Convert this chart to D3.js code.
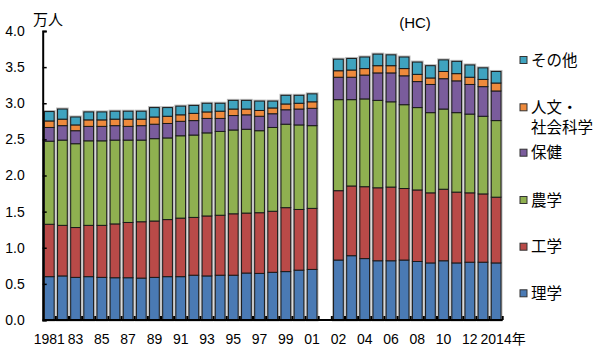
<!DOCTYPE html>
<html><head><meta charset="utf-8">
<script src="https://cdn.jsdelivr.net/npm/d3@7"></script>
<style>body{margin:0;background:#fff}text{fill:#000}</style></head>
<body><svg id="c" width="600" height="358"></svg>
<script>
// categories
const yearsA = ["1981","1982","1983","1984","1985","1986","1987","1988","1989","1990","1991","1992","1993","1994","1995","1996","1997","1998","1999","2000","2001"];
const yearsB = ["2002","2003","2004","2005","2006","2007","2008","2009","2010","2011","2012","2013","2014"];
// series values (万人), order: yearsA then yearsB
const rigaku   = [0.60,0.61,0.59,0.60,0.59,0.585,0.585,0.58,0.59,0.60,0.60,0.62,0.61,0.62,0.62,0.65,0.645,0.66,0.67,0.69,0.70,
                  0.83,0.89,0.85,0.82,0.82,0.83,0.81,0.79,0.82,0.79,0.80,0.80,0.79];
const kogaku   = [0.725,0.70,0.69,0.71,0.72,0.745,0.765,0.78,0.78,0.79,0.81,0.80,0.83,0.83,0.85,0.83,0.84,0.845,0.885,0.84,0.845,
                  0.96,0.965,0.995,1.01,1.02,0.99,0.99,0.97,0.99,0.98,0.96,0.945,0.91];
const nogaku   = [1.15,1.18,1.16,1.17,1.17,1.16,1.14,1.13,1.14,1.13,1.14,1.14,1.15,1.16,1.16,1.16,1.135,1.16,1.155,1.17,1.145,
                  1.26,1.195,1.215,1.21,1.18,1.16,1.14,1.11,1.11,1.10,1.09,1.075,1.06];
const hoken    = [0.19,0.20,0.18,0.20,0.20,0.20,0.19,0.20,0.20,0.20,0.20,0.20,0.20,0.18,0.20,0.20,0.20,0.19,0.20,0.22,0.24,
                  0.31,0.31,0.33,0.38,0.40,0.40,0.36,0.39,0.42,0.44,0.41,0.41,0.41];
const jinbun   = [0.09,0.09,0.08,0.09,0.09,0.09,0.10,0.09,0.10,0.10,0.09,0.10,0.09,0.10,0.09,0.08,0.08,0.08,0.08,0.08,0.09,
                  0.09,0.10,0.09,0.10,0.10,0.10,0.10,0.09,0.10,0.10,0.10,0.10,0.11];
const sonota   = [0.13,0.14,0.11,0.11,0.11,0.11,0.11,0.11,0.13,0.12,0.12,0.11,0.12,0.11,0.12,0.12,0.13,0.095,0.12,0.11,0.11,
                  0.16,0.16,0.16,0.16,0.15,0.16,0.17,0.17,0.16,0.17,0.17,0.16,0.16];
const seriesKeys  = ["理学","工学","農学","保健","人文・社会科学","その他"];
const seriesColors = ["#4a7ab4","#b94a48","#8fb050","#7a5c9c","#ee8a3c","#3fa3bf"];
// tick labels
const tickYears = ["1981","1983","1985","1987","1989","1991","1993","1995","1997","1999","2001","2002","2004","2006","2008","2010","2012","2014"];
const tickTexts = ["1981","83","85","87","89","91","93","95","97","99","01","02","04","06","08","10","12","2014"];
const yTicks = [0,0.5,1.0,1.5,2.0,2.5,3.0,3.5,4.0];

const seriesData = [rigaku,kogaku,nogaku,hoken,jinbun,sonota];
const allYears = yearsA.concat(yearsB);
const rows = allYears.map((yr,i)=>{const r={year:yr}; seriesKeys.forEach((k,j)=>r[k]=seriesData[j][i]); return r;});
const domain = yearsA.concat(["gap"]).concat(yearsB);

const svg = d3.select("#c");
const font = "'Liberation Sans', Arial, 'Noto Sans CJK JP', sans-serif";
const jfont = "'Noto Sans CJK JP', sans-serif";

const x = d3.scaleBand().domain(domain).range([42.7,502.7]).paddingInner(0.26).paddingOuter(0.13);
const y = d3.scaleLinear().domain([0,4]).range([320,31]);

const stack = d3.stack().keys(seriesKeys)(rows);

// bar halo
svg.append("g").selectAll("rect").data(rows).join("rect")
  .attr("x",d=>x(d.year)).attr("width",x.bandwidth())
  .attr("y",d=>y(d3.sum(seriesKeys,k=>d[k]))).attr("height",d=>y(0)-y(d3.sum(seriesKeys,k=>d[k])))
  .attr("fill","none").attr("stroke","#b8b8b8").attr("stroke-width",3);

const g = svg.append("g");
stack.forEach((s,j)=>{
  g.append("g").selectAll("rect").data(s).join("rect")
    .attr("x",d=>x(d.data.year)).attr("width",x.bandwidth())
    .attr("y",d=>y(d[1])).attr("height",d=>y(d[0])-y(d[1]))
    .attr("fill",seriesColors[j]).attr("stroke","#1a1a1a").attr("stroke-width",1);
});

// y axis
const ya = svg.append("g").attr("transform","translate(42.7,0)")
  .call(d3.axisLeft(y).tickValues(yTicks).tickFormat(d3.format(".1f")).tickSize(-4).tickPadding(18));
ya.select(".domain").attr("stroke","#000").attr("stroke-width",2);
ya.selectAll(".tick line").attr("stroke","#000").attr("stroke-width",1.5);
ya.selectAll("text").attr("font-family",font).attr("font-size",14).attr("fill","#000");

// x axis
const xa = svg.append("g").attr("transform","translate(0,320)");
xa.append("line").attr("x1",42.7).attr("x2",502.7).attr("y1",0).attr("y2",0).attr("stroke","#000").attr("stroke-width",2);
const step = x.step();
xa.selectAll("line.t").data(domain).join("line").attr("class","t")
  .attr("x1",d=>x(d)+x.bandwidth()+ (step-x.bandwidth())/2).attr("x2",d=>x(d)+x.bandwidth()+(step-x.bandwidth())/2)
  .attr("y1",0).attr("y2",-4).attr("stroke","#000").attr("stroke-width",2);
xa.selectAll("text.l").data(tickYears).join("text").attr("class","l")
  .attr("x",(d)=>x(d)+x.bandwidth()/2).attr("y",24)
  .attr("text-anchor","middle").attr("font-family",font).attr("font-size",14)
  .text((d,i)=>tickTexts[i]);
xa.append("text").attr("x",x("2014")+x.bandwidth()/2+15.5).attr("y",24)
  .attr("font-family",jfont).attr("font-size",14).text("年");

// unit label and HC label
svg.append("text").attr("x",48).attr("y",25).attr("text-anchor","middle")
  .attr("font-family",jfont).attr("font-size",15).text("万人");
svg.append("text").attr("x",415).attr("y",28).attr("text-anchor","middle")
  .attr("font-family",font).attr("font-size",15).text("(HC)");

// legend
const legY = [293.3,246.7,200,152.7,107.3,60];
const lg = svg.append("g");
seriesKeys.forEach((k,j)=>{
  lg.append("rect").attr("x",520).attr("y",legY[j]-3.5).attr("width",7).attr("height",7)
    .attr("fill",seriesColors[j]).attr("stroke","#333").attr("stroke-width",1);
  if(k==="人文・社会科学"){
    lg.append("text").attr("x",531).attr("y",legY[j]+5.5).attr("font-family",jfont).attr("font-size",15.5).text("人文・");
    lg.append("text").attr("x",531).attr("y",legY[j]+25.5).attr("font-family",jfont).attr("font-size",15.5).text("社会科学");
  } else {
    lg.append("text").attr("x",531).attr("y",legY[j]+5.5).attr("font-family",jfont).attr("font-size",15.5).text(k);
  }
});
</script></body></html>
